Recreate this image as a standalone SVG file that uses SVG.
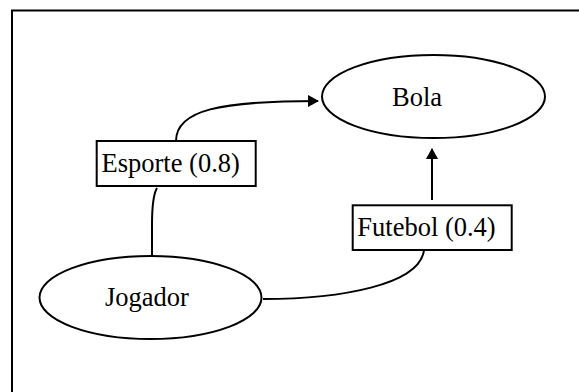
<svg xmlns="http://www.w3.org/2000/svg" width="579" height="392" viewBox="0 0 579 392">
<style>
.shape{fill:#fff;stroke:#000;stroke-width:2}
.edge{fill:none;stroke:#000;stroke-width:2}
text{font-family:"Liberation Serif","Times New Roman",serif;font-size:26.5px;fill:#000}
</style>
<defs>
<marker id="arr" markerWidth="11" markerHeight="12" refX="10" refY="6" orient="auto" markerUnits="userSpaceOnUse">
<path d="M0,0 L11,6 L0,12 Z" fill="#000"/>
</marker>
</defs>
<rect x="12" y="10.5" width="580" height="400" fill="#fff" stroke="#000" stroke-width="2"/>
<g id="edges">
<path class="edge" d="M176,141 C176,110 220,101 318,101" marker-end="url(#arr)"/>
<path class="edge" d="M152,256 L152,225 C152,205 154,193 157,188"/>
<path class="edge" d="M432,200 L432,149" marker-end="url(#arr)"/>
<path class="edge" d="M424,250 C420,285 340,299 263,299"/>
</g>
<g id="bola">
<ellipse class="shape" cx="433.5" cy="96.5" rx="111.5" ry="41.5"/>
<text x="392" y="106">Bola</text>
</g>
<g id="jogador">
<ellipse class="shape" cx="150.5" cy="297.5" rx="111" ry="41.5"/>
<text x="105" y="306">Jogador</text>
</g>
<g id="esporte">
<rect class="shape" x="96.7" y="141" width="159" height="45"/>
<text x="101.5" y="171.5">Esporte (0.8)</text>
</g>
<g id="futebol">
<rect class="shape" x="352.7" y="205.3" width="159" height="44.7"/>
<text x="357.3" y="236">Futebol (0.4)</text>
</g>
</svg>
